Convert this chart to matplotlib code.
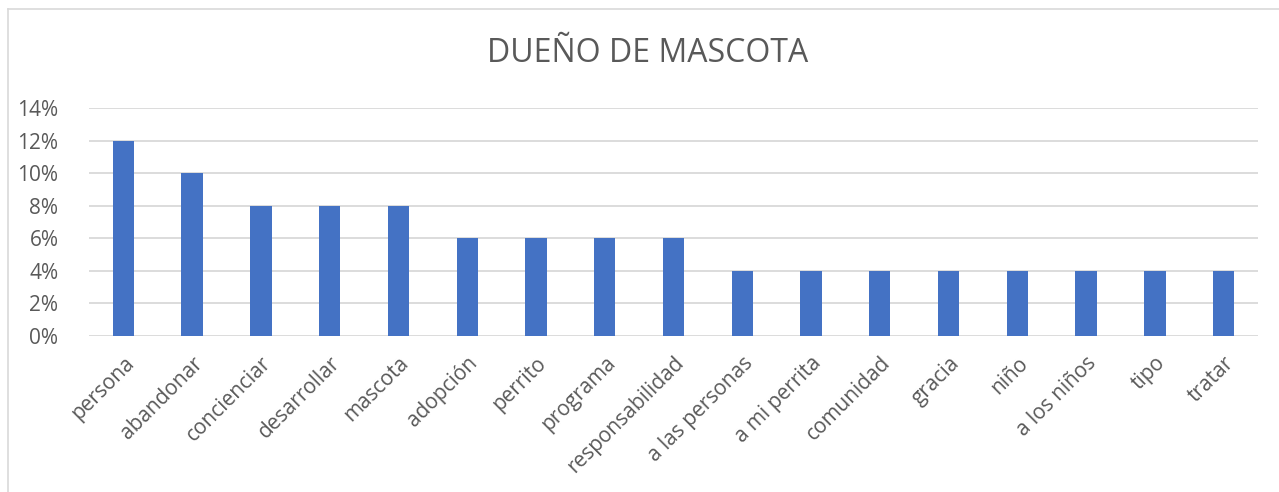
import matplotlib.pyplot as plt
from matplotlib.ticker import PercentFormatter
from matplotlib.lines import Line2D

categorias = ["persona", "abandonar", "concienciar", "desarrollar", "mascota",
              "adopción", "perrito", "programa", "responsabilidad", "a las personas",
              "a mi perrita", "comunidad", "gracia", "niño", "a los niños", "tipo", "tratar"]
porcentajes = [12, 10, 8, 8, 8, 6, 6, 6, 6, 4, 4, 4, 4, 4, 4, 4, 4]
yticks = [0, 2, 4, 6, 8, 10, 12, 14]

plt.rcParams['font.family'] = ['Open Sans', 'DejaVu Sans']
gris = "#595959"

fig = plt.figure(figsize=(12.79, 4.92), dpi=100)
ax = fig.add_axes([89 / 1279, 1 - 336 / 492, (1258 - 89) / 1279, (336 - 108) / 492])

ax.bar(range(len(categorias)), porcentajes, width=0.31, color="#4472C4", zorder=3)
ax.set_xlim(-0.5, len(categorias) - 0.5)
ax.set_ylim(0, 14)
ax.set_yticks(yticks)
ax.yaxis.set_major_formatter(PercentFormatter(decimals=0))
ax.grid(axis="y", color="#d9d9d9", linewidth=1.3, zorder=0)
for s in ax.spines.values():
    s.set_visible(False)
ax.tick_params(length=0, labelsize=15, labelcolor=gris)
ax.tick_params(axis="y", pad=22)
ax.set_xticks(range(len(categorias)))
ax.set_xticklabels(categorias, rotation=45, ha="right", rotation_mode="anchor")
ax.tick_params(axis="x", pad=12)

fig.text(648 / 1279, 1 - 53 / 492, "DUEÑO DE MASCOTA", ha="center", va="center",
         fontsize=23, color=gris)

# borde del gráfico
fig.add_artist(Line2D([8 / 1279, 8 / 1279], [0, 1 - 9 / 492], color="#d9d9d9", lw=1.2))
fig.add_artist(Line2D([8 / 1279, 1], [1 - 9 / 492, 1 - 9 / 492], color="#d9d9d9", lw=1.2))

fig.savefig("out.png", dpi=100)
